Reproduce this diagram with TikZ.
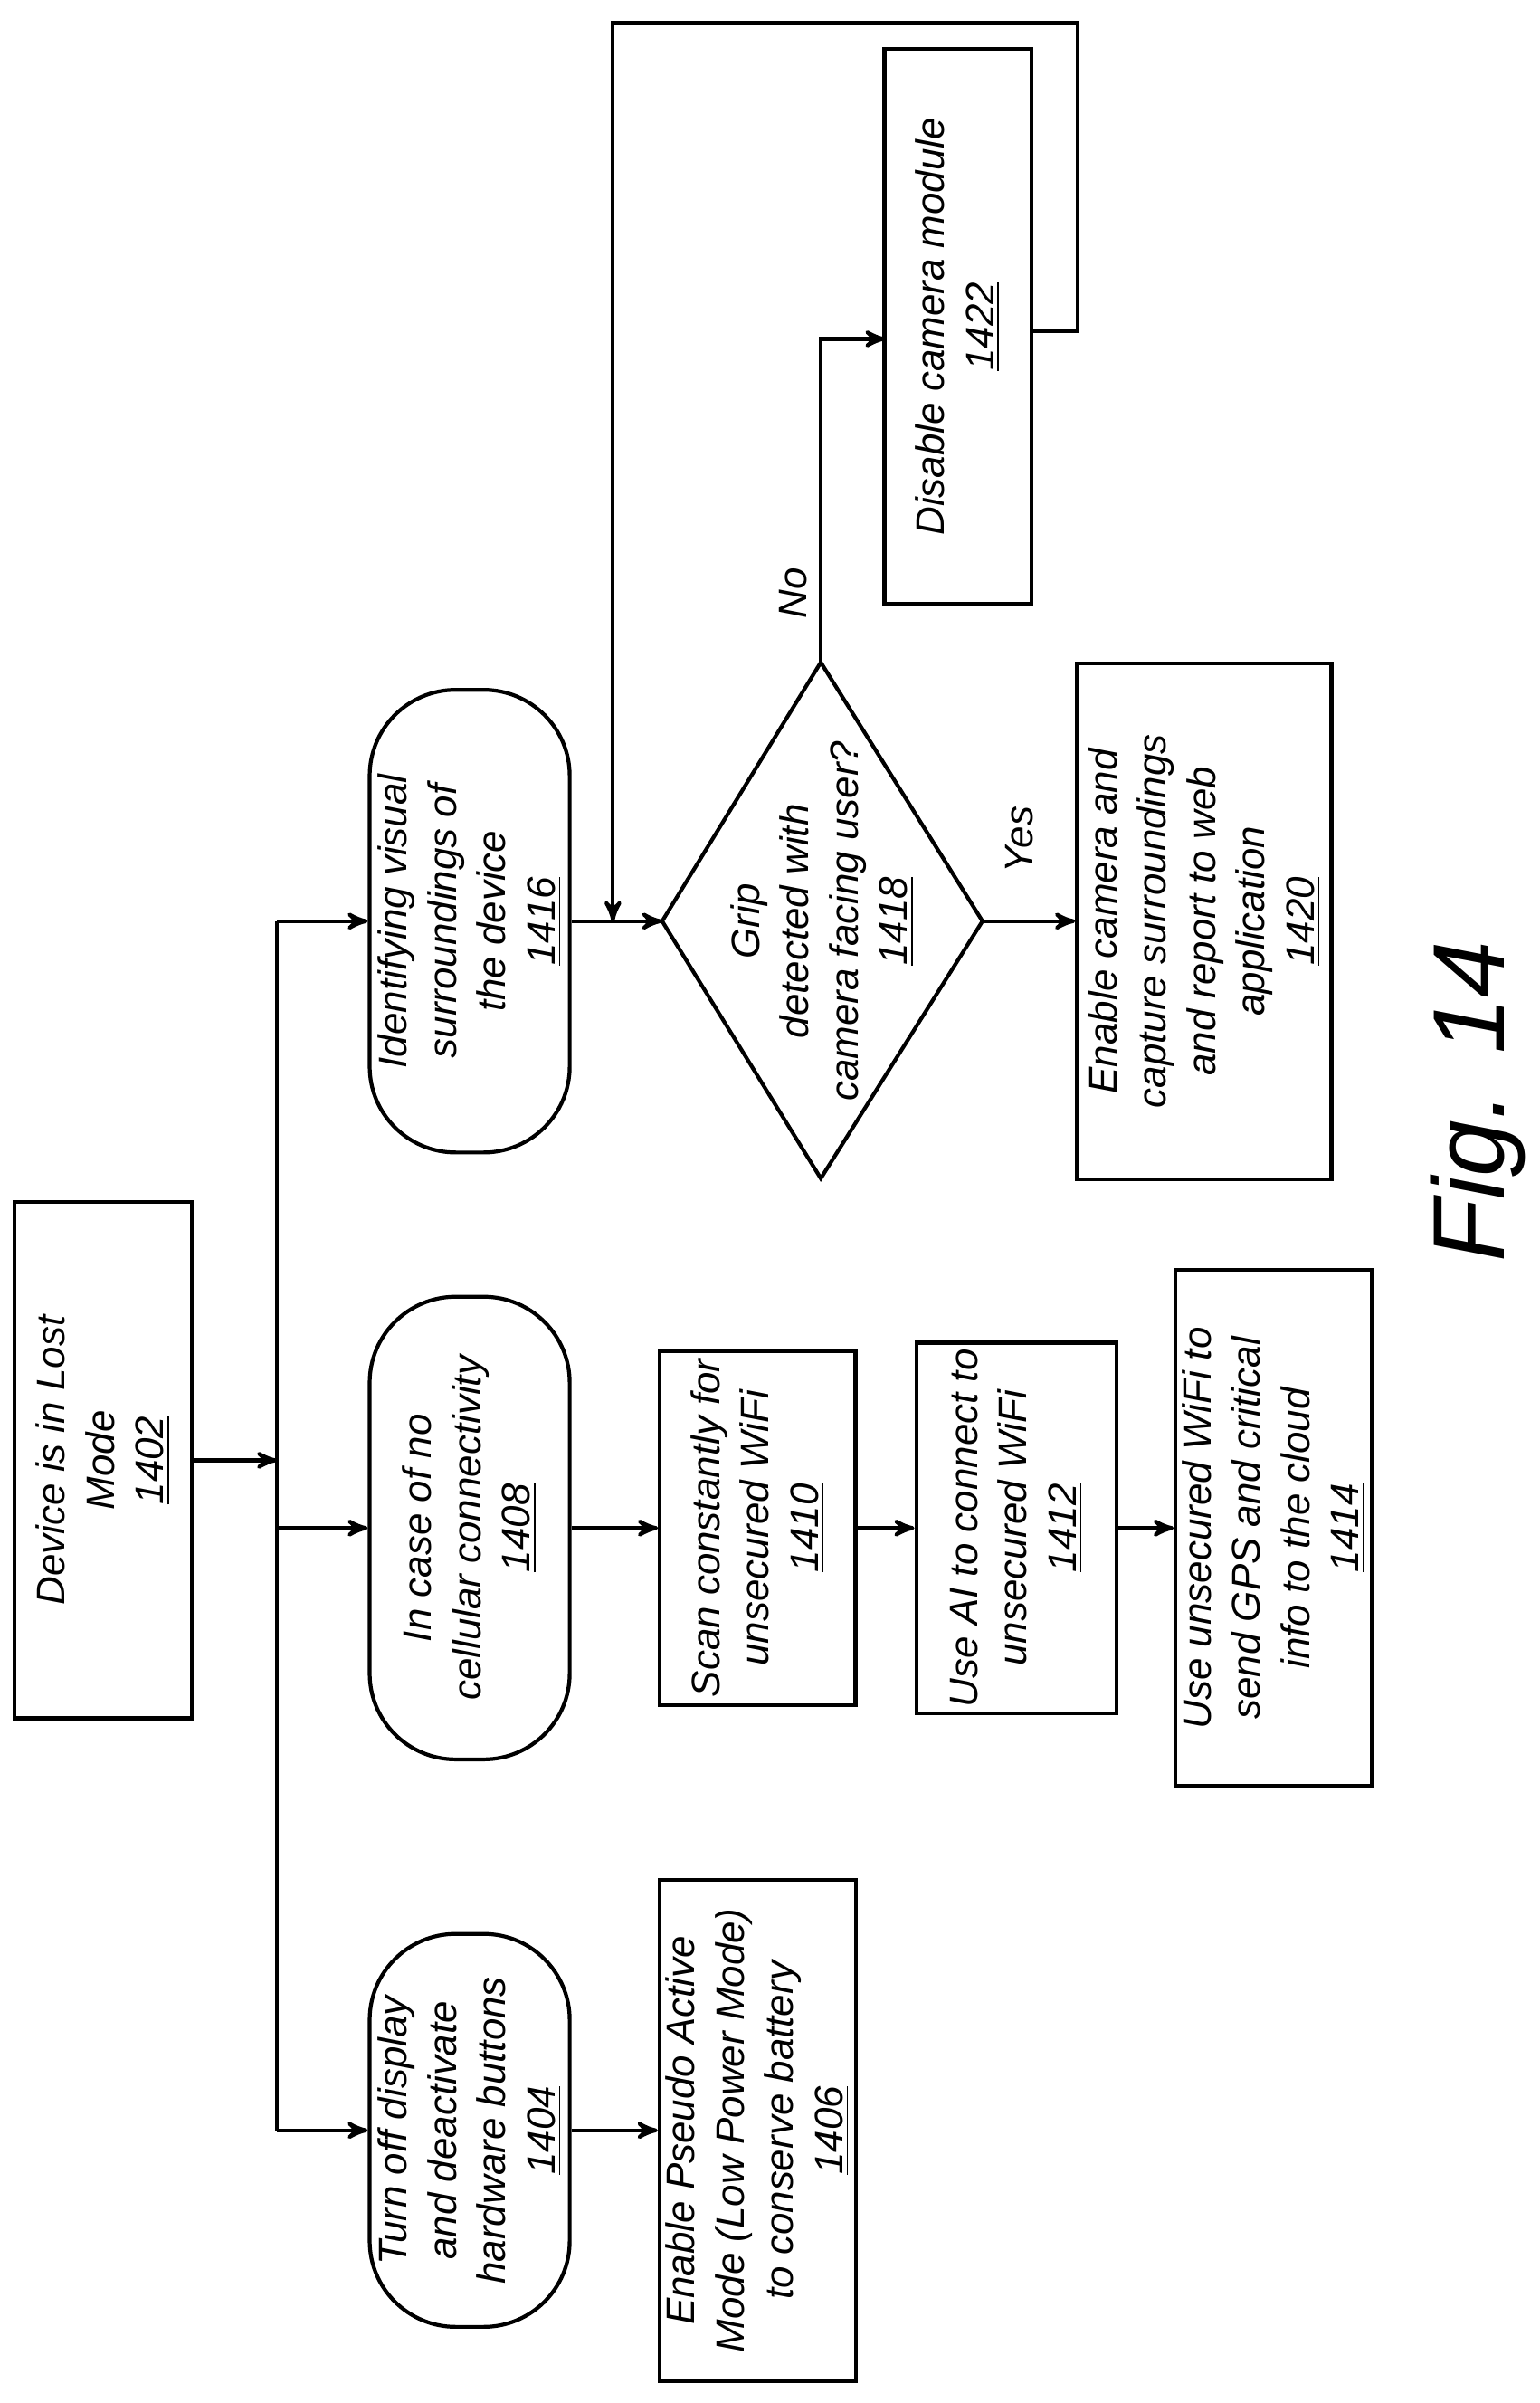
\documentclass[tikz,border=0pt]{standalone}
\usepackage{fontspec}
\setmainfont{Liberation Sans}
\usetikzlibrary{arrows}

\begin{document}
\begin{tikzpicture}[x=0.01702cm,y=-0.01702cm,->,>=stealth',line width=1.2pt,
  every node/.style={rotate=90,align=center,font=\itshape\fontsize{12.5}{15.5}\selectfont},
  box node/.style={rectangle,draw,inner sep=2pt},
  term node/.style={rectangle,rounded corners=0.95cm,draw,inner sep=2pt}]
  \useasboundingbox (0,0) rectangle (1000,1560);
  \node[box node,minimum width=5.7cm,minimum height=1.96cm] (1402) at (67,948) {Device is in Lost\\Mode\\\underline{1402}};
  \node[term node,minimum width=4.34cm,minimum height=2.21cm] (1404) at (305,1383) {Turn off display\\and deactivate\\hardware buttons\\\underline{1404}};
  \node[box node,minimum width=5.53cm,minimum height=2.16cm] (1406) at (492,1383) {Enable Pseudo Active\\Mode (Low Power Mode)\\to conserve battery\\\underline{1406}};
  \node[term node,minimum width=5.11cm,minimum height=2.21cm] (1408) at (305,992) {In case of no\\cellular connectivity\\\underline{1408}};
  \node[box node,minimum width=3.91cm,minimum height=2.16cm] (1410) at (492,992) {Scan constantly for\\unsecured WiFi\\\underline{1410}};
  \node[box node,minimum width=3.91cm,minimum height=2.21cm] (1412) at (660,992) {Use AI to connect to\\unsecured WiFi\\\underline{1412}};
  \node[box node,minimum width=5.7cm,minimum height=2.16cm] (1414) at (827,992) {Use unsecured WiFi to\\send GPS and critical\\info to the cloud\\\underline{1414}};
  \node[term node,minimum width=5.11cm,minimum height=2.21cm] (1416) at (305,598) {Identifying visual\\surroundings of\\the device\\\underline{1416}};
  % decision diamond drawn from its corners
  \coordinate (dl) at (430,598);
  \coordinate (dr) at (638,598);
  \coordinate (dt) at (533,430);
  \coordinate (db) at (533,765);
  \draw[-] (dl) -- (dt) -- (dr) -- (db) -- cycle;
  \node (1418) at (534,598) {Grip\\detected with\\camera facing user?\\\underline{1418}};
  \node[box node,minimum width=5.7cm,minimum height=2.81cm] (1420) at (782,598) {Enable camera and\\capture surroundings\\and report to web\\application\\\underline{1420}};
  \node[box node,minimum width=6.13cm,minimum height=1.62cm] (1422) at (622,212) {Disable camera module\\\underline{1422}};
  \node (yes) at (662,545) {Yes};
  \node (no) at (515,385) {No};
  \node[font=\itshape\fontsize{32}{38}\selectfont] (fig) at (960,715) {Fig. 14};

  \coordinate (t0) at (180,948);
  \coordinate (ttop) at (180,598);
  \coordinate (tbot) at (180,1383);
  \coordinate (tmid) at (180,992);
  \coordinate (loopa) at (700,15);
  \coordinate (loopb) at (398,598);
  \coordinate (nobend) at (533,220);
  \coordinate (noend) at (575,220);
  \coordinate (loopout) at (670,215);

  \draw[-] (ttop) -- (tbot);
  \draw (1402) -- (t0);
  \draw (ttop) -- (1416);
  \draw (tmid) -- (1408);
  \draw (tbot) -- (1404);
  \draw (1404) -- (1406);
  \draw (1408) -- (1410);
  \draw (1410) -- (1412);
  \draw (1412) -- (1414);
  \draw (1416) -- (dl);
  \draw (dr) -- (1420);
  \draw (dt) -- (nobend) -- (noend);
  \draw (loopout) -| (loopa) -| (loopb);
\end{tikzpicture}
\end{document}
